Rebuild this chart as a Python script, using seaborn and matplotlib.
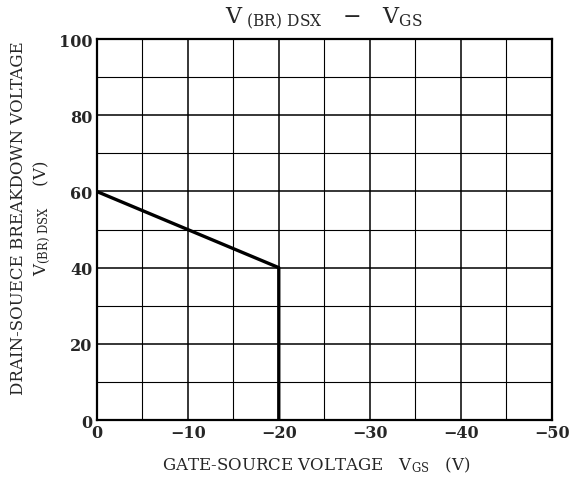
import matplotlib
matplotlib.use("Agg")
import matplotlib.pyplot as plt
import seaborn as sns
import pandas as pd
import numpy as np

# ---------- data ----------
vgs = [0, -20, -20]
vbr = [60, 40, 0]

x_ticks = [0, -10, -20, -30, -40, -50]
y_ticks = [0, 20, 40, 60, 80, 100]

sns.set_style("white")
plt.rcParams["font.family"] = ["DejaVu Serif"]
plt.rcParams["mathtext.fontset"] = "dejavuserif"

fig = plt.figure(figsize=(5.76, 4.89), dpi=100)
ax = fig.add_axes([0.168, 0.139, 0.790, 0.779])

df = pd.DataFrame({"vgs": vgs, "vbr": vbr})
sns.lineplot(data=df, x="vgs", y="vbr", sort=False, estimator=None,
             color="black", linewidth=2.4, ax=ax)

ax.set_xlim(0, -50)
ax.set_ylim(0, 100)

# grid: major at labelled values, minor in between
for xv in np.arange(0, -51, -5):
    lw = 1.1 if xv % 10 == 0 else 0.8
    ax.axvline(xv, color="black", linewidth=lw, zorder=0)
for yv in np.arange(0, 101, 10):
    lw = 1.1 if yv % 20 == 0 else 0.8
    ax.axhline(yv, color="black", linewidth=lw, zorder=0)

ax.set_xticks(x_ticks)
ax.set_xticklabels(["0" if v == 0 else "\u2212" + str(abs(v)) for v in x_ticks])
ax.set_yticks(y_ticks)
ax.set_yticklabels([str(v) for v in y_ticks])
ax.tick_params(length=0, labelsize=11.5, pad=3)
for lab in ax.get_xticklabels() + ax.get_yticklabels():
    lab.set_fontweight("bold")

for s in ax.spines.values():
    s.set_color("black")
    s.set_linewidth(1.6)

ax.set_xlabel("GATE-SOURCE VOLTAGE   V$_{\\mathrm{GS}}$   (V)", fontsize=12)
ax.xaxis.set_label_coords(0.483, -0.09)
ax.set_ylabel("DRAIN-SOUECE BREAKDOWN VOLTAGE\nV$_{\\mathrm{(BR)\\ DSX}}$    (V)",
              fontsize=12, linespacing=1.25)
ax.yaxis.set_label_coords(-0.097, 0.533)
ax.set_title("V$_{\\mathrm{\\ (BR)\\ DSX}}$   \u2212   V$_{\\mathrm{GS}}$",
             fontsize=16, pad=12)

fig.savefig("out.png", dpi=100)
plt.close(fig)
